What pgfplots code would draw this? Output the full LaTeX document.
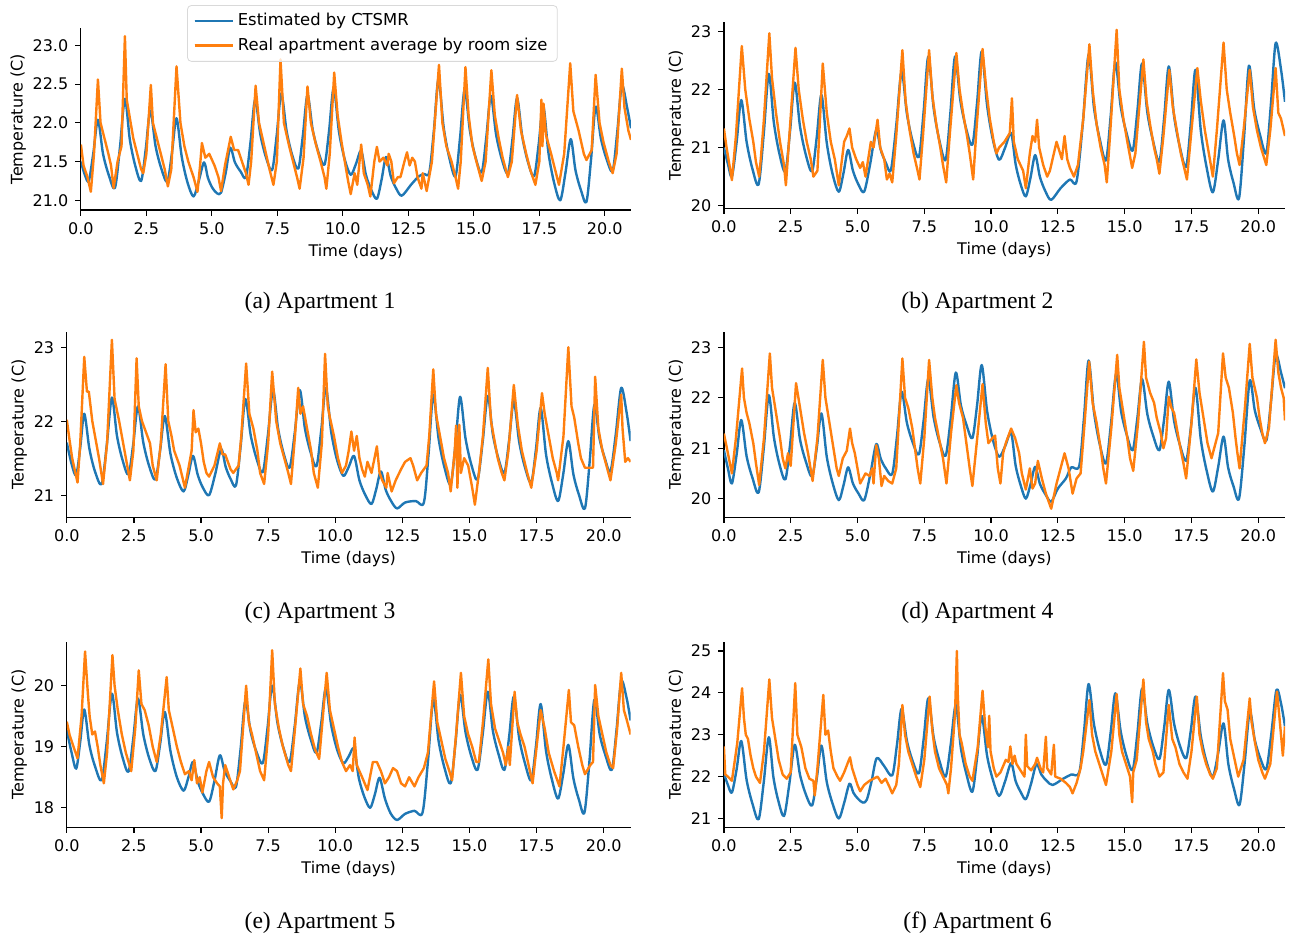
\documentclass[border=0pt]{standalone}
\usepackage{fontspec}
\setmainfont{DejaVu Sans}
\newfontfamily\capfont{Liberation Serif}
\usepackage{pgfplots}
\pgfplotsset{compat=1.18}
\definecolor{mplblue}{HTML}{1F77B4}
\definecolor{mplorange}{HTML}{FF7F0E}
\pgfplotsset{
  apt/.style={
    scale only axis, anchor=south west,
    xmin=0, xmax=21,
    axis lines=left, axis line style={-, line width=0.6pt},
    tick align=outside, major tick length=2.8pt,
    tick style={black, line width=0.6pt},
    xtick={0,2.5,5,7.5,10,12.5,15,17.5,20},
    xticklabel style={/pgf/number format/fixed, /pgf/number format/fixed zerofill, /pgf/number format/precision=1},
    /pgf/number format/assume math mode=true,
    xlabel={Time (days)}, ylabel={Temperature (C)},
    xlabel shift=-2pt, ylabel shift=-3.5pt,
    font=\fontsize{8}{9.6}\selectfont,
    every axis plot/.append style={line width=1.2pt, line join=round},
    legend image code/.code={\draw[##1, line width=1.2pt] (0pt,0pt) -- (16pt,0pt); \path (0pt,0pt) -- (19pt,0pt);},
  },
  bl/.style={mplblue, smooth},
  or/.style={mplorange},
}
\begin{document}
\begin{tikzpicture}
\useasboundingbox (0,0) rectangle (651.5pt,469.5pt);

% (a)
\begin{axis}[apt, at={(40.45pt,364.5pt)}, width=275.05pt, height=91pt,
  ymin=20.875, ymax=23.225, ytick={21,21.5,22,22.5,23},
  yticklabel style={/pgf/number format/fixed, /pgf/number format/fixed zerofill, /pgf/number format/precision=1},
  legend style={at={(axis description cs:0.193,1.126)}, anchor=north west, font=\fontsize{8.2}{9.8}\selectfont,
    draw=black!15, fill=white, fill opacity=0.8, text opacity=1, rounded corners=2pt,
    inner xsep=3pt, inner ysep=2pt, row sep=0.5pt, cells={anchor=west}},
  legend cell align=left]
\addplot[bl] coordinates {(0,21.5) (0.15,21.33) (0.3,21.25) (0.475,21.61) (0.65,22.04) (0.845,21.6) (1.07,21.32) (1.3,21.16) (1.49,21.68) (1.68,22.31) (1.87,21.78) (2.08,21.44) (2.3,21.25) (2.475,21.66) (2.65,22.16) (2.85,21.7) (3.07,21.41) (3.3,21.24) (3.475,21.61) (3.65,22.06) (3.85,21.56) (4.07,21.23) (4.3,21.05) (4.5,21.25) (4.7,21.49) (4.85,21.29) (5.02,21.16) (5.2,21.09) (5.35,21.1) (5.53,21.36) (5.7,21.68) (5.88,21.49) (6.1,21.37) (6.3,21.3) (6.475,21.75) (6.65,22.3) (6.85,21.85) (7.07,21.55) (7.3,21.39) (7.475,21.84) (7.65,22.38) (7.85,21.9) (8.07,21.58) (8.3,21.41) (8.475,21.84) (8.65,22.36) (8.85,21.91) (9.07,21.62) (9.3,21.46) (9.475,21.9) (9.65,22.45) (9.85,21.89) (10.07,21.53) (10.3,21.33) (10.5,21.47) (10.7,21.64) (10.88,21.33) (11.09,21.13) (11.3,21.02) (11.475,21.26) (11.65,21.56) (11.83,21.31) (12.04,21.15) (12.25,21.06) (12.6,21.2) (12.9,21.31) (13.1,21.34) (13.3,21.36) (13.475,21.9) (13.65,22.56) (13.85,21.94) (14.07,21.54) (14.3,21.31) (14.475,21.81) (14.65,22.43) (14.85,21.9) (15.07,21.55) (15.3,21.36) (15.475,21.81) (15.65,22.35) (15.85,21.85) (16.07,21.53) (16.3,21.35) (16.475,21.79) (16.65,22.32) (16.85,21.82) (17.07,21.49) (17.3,21.31) (17.475,21.72) (17.65,22.22) (17.85,21.61) (18.07,21.22) (18.3,21.0) (18.5,21.36) (18.7,21.79) (18.88,21.39) (19.09,21.13) (19.3,20.98) (19.475,21.53) (19.65,22.21) (19.85,21.8) (20.07,21.53) (20.3,21.38) (20.475,21.88) (20.65,22.48) (20.85,22.2) (21.0,21.93)};
\addplot[or] coordinates {(0,21.72) (0.1,21.45) (0.25,21.3) (0.38,21.11) (0.5,21.6) (0.65,22.56) (0.75,22.0) (0.9,21.8) (1.05,21.6) (1.15,21.45) (1.25,21.16) (1.4,21.5) (1.55,21.7) (1.68,23.12) (1.75,22.3) (1.9,22.0) (2.0,21.8) (2.15,21.6) (2.3,21.4) (2.38,21.35) (2.5,21.6) (2.67,22.49) (2.75,22.0) (2.9,21.8) (3.05,21.6) (3.2,21.4) (3.32,21.18) (3.45,21.4) (3.65,22.73) (3.8,22.0) (3.95,21.7) (4.1,21.5) (4.3,21.3) (4.45,21.11) (4.55,21.45) (4.62,21.74) (4.75,21.55) (4.9,21.6) (5.1,21.45) (5.25,21.3) (5.35,21.12) (5.5,21.45) (5.72,21.82) (5.85,21.65) (6.0,21.65) (6.1,21.55) (6.3,21.35) (6.4,21.2) (6.5,21.5) (6.67,22.48) (6.8,22.0) (7.0,21.7) (7.2,21.4) (7.35,21.2) (7.48,21.5) (7.62,22.82) (7.75,22.0) (7.95,21.7) (8.1,21.5) (8.25,21.3) (8.35,21.15) (8.5,21.55) (8.65,22.47) (8.78,22.0) (8.95,21.75) (9.15,21.5) (9.3,21.3) (9.37,21.15) (9.5,21.6) (9.67,22.65) (9.8,22.1) (9.95,21.75) (10.1,21.45) (10.2,21.25) (10.3,21.08) (10.45,21.35) (10.55,21.2) (10.7,21.72) (10.8,21.35) (10.95,21.2) (11.05,21.05) (11.2,21.5) (11.3,21.69) (11.4,21.5) (11.55,21.55) (11.7,21.45) (11.75,21.6) (11.85,21.5) (11.95,21.22) (12.1,21.3) (12.2,21.3) (12.35,21.5) (12.45,21.62) (12.55,21.45) (12.65,21.55) (12.75,21.5) (12.85,21.3) (13.0,21.15) (13.05,21.35) (13.2,21.12) (13.4,21.5) (13.67,22.75) (13.8,22.0) (13.95,21.7) (14.15,21.5) (14.3,21.3) (14.4,21.15) (14.5,21.5) (14.68,22.72) (14.8,22.1) (14.95,21.7) (15.1,21.5) (15.3,21.25) (15.45,21.5) (15.67,22.68) (15.8,22.1) (15.95,21.8) (16.1,21.55) (16.3,21.3) (16.45,21.5) (16.65,22.36) (16.8,21.9) (17.0,21.6) (17.15,21.4) (17.35,21.2) (17.5,21.5) (17.58,22.3) (17.62,21.7) (17.66,22.25) (17.75,21.85) (17.95,21.6) (18.1,21.4) (18.25,21.2) (18.45,21.6) (18.68,22.77) (18.8,22.15) (19.0,21.9) (19.2,21.6) (19.3,21.52) (19.5,21.65) (19.65,22.62) (19.8,22.0) (19.95,21.75) (20.15,21.5) (20.3,21.35) (20.45,21.6) (20.65,22.7) (20.75,22.2) (20.9,21.9) (21.0,21.78)};
\legend{Estimated by CTSMR, Real apartment average by room size}
\end{axis}

% (b)
\begin{axis}[apt, at={(361.95pt,365.35pt)}, width=280.55pt, height=93.3pt,
  ymin=19.954, ymax=23.17, ytick={20,21,22,23}]
\addplot[bl] coordinates {(0,21.0) (0.15,20.72) (0.3,20.5) (0.475,21.09) (0.65,21.82) (0.85,21.1) (1.07,20.63) (1.3,20.37) (1.49,21.23) (1.68,22.27) (1.87,21.43) (2.08,20.89) (2.3,20.59) (2.475,21.28) (2.65,22.12) (2.85,21.36) (3.07,20.87) (3.3,20.59) (3.475,21.18) (3.65,21.91) (3.85,21.08) (4.07,20.54) (4.3,20.24) (4.475,20.56) (4.65,20.96) (4.83,20.6) (5.04,20.36) (5.25,20.24) (5.475,20.72) (5.7,21.3) (5.87,20.96) (6.06,20.74) (6.25,20.61) (6.45,21.38) (6.65,22.31) (6.85,21.58) (7.07,21.1) (7.3,20.84) (7.475,21.62) (7.65,22.57) (7.85,21.68) (8.07,21.11) (8.3,20.79) (8.475,21.59) (8.65,22.57) (8.85,21.81) (9.07,21.32) (9.3,21.05) (9.475,21.77) (9.65,22.66) (9.85,21.73) (10.07,21.13) (10.3,20.79) (10.525,21.0) (10.75,21.25) (10.92,20.71) (11.11,20.36) (11.3,20.16) (11.475,20.48) (11.65,20.87) (11.83,20.49) (12.04,20.24) (12.25,20.1) (12.6,20.3) (12.95,20.45) (13.2,20.42) (13.43,21.4) (13.65,22.6) (13.85,21.69) (14.07,21.14) (14.3,20.78) (14.475,21.54) (14.65,22.47) (14.85,21.71) (15.07,21.25) (15.3,20.95) (15.475,21.63) (15.65,22.45) (15.85,21.6) (16.07,21.1) (16.3,20.76) (16.475,21.5) (16.65,22.4) (16.85,21.54) (17.07,21.0) (17.3,20.67) (17.475,21.42) (17.65,22.34) (17.85,21.29) (18.07,20.65) (18.3,20.23) (18.5,20.79) (18.7,21.47) (18.87,20.8) (19.07,20.4) (19.28,20.13) (19.465,21.16) (19.65,22.41) (19.85,21.66) (20.07,21.21) (20.3,20.91) (20.475,21.76) (20.65,22.8) (20.85,22.35) (21.0,21.79)};
\addplot[or] coordinates {(0,21.33) (0.1,21.0) (0.3,20.44) (0.45,21.2) (0.67,22.75) (0.8,22.0) (0.95,21.5) (1.1,21.1) (1.2,20.75) (1.32,20.5) (1.38,20.8) (1.5,21.5) (1.7,22.97) (1.8,22.2) (1.95,21.6) (2.1,21.1) (2.25,20.7) (2.32,20.35) (2.45,21.2) (2.68,22.72) (2.8,22.0) (2.95,21.5) (3.1,21.1) (3.25,20.8) (3.35,20.5) (3.5,20.6) (3.7,22.45) (3.85,21.6) (4.0,21.1) (4.15,20.8) (4.3,20.35) (4.5,21.1) (4.6,21.2) (4.7,21.33) (4.8,21.0) (4.95,20.8) (5.1,20.65) (5.2,20.75) (5.3,20.5) (5.5,21.1) (5.6,21.0) (5.75,21.48) (5.85,21.0) (6.0,20.8) (6.1,20.45) (6.2,20.55) (6.3,20.4) (6.45,21.2) (6.68,22.68) (6.8,21.8) (6.95,21.3) (7.1,20.9) (7.25,20.6) (7.32,20.45) (7.45,21.2) (7.68,22.68) (7.8,21.9) (7.95,21.4) (8.1,21.0) (8.2,20.7) (8.32,20.4) (8.45,21.2) (8.7,22.63) (8.82,22.0) (8.95,21.6) (9.1,21.2) (9.2,20.9) (9.33,20.45) (9.45,21.3) (9.68,22.7) (9.82,22.0) (9.95,21.5) (10.1,21.1) (10.2,20.9) (10.3,21.0) (10.5,21.1) (10.7,21.25) (10.78,21.85) (10.85,21.1) (11.0,20.8) (11.2,20.6) (11.3,20.3) (11.45,20.9) (11.55,21.2) (11.65,21.1) (11.72,21.48) (11.8,21.0) (11.95,20.7) (12.1,20.5) (12.2,20.6) (12.35,20.9) (12.45,21.1) (12.55,20.95) (12.65,20.8) (12.75,21.2) (12.85,20.8) (12.95,20.65) (13.1,20.5) (13.25,20.7) (13.45,21.5) (13.68,22.78) (13.8,22.0) (13.95,21.4) (14.1,21.0) (14.25,20.7) (14.33,20.4) (14.45,21.2) (14.7,23.03) (14.8,22.0) (14.95,21.5) (15.1,21.1) (15.28,20.65) (15.4,20.9) (15.7,22.52) (15.82,21.8) (15.95,21.4) (16.1,21.0) (16.2,20.8) (16.3,20.55) (16.45,21.2) (16.67,22.34) (16.8,21.7) (16.95,21.3) (17.1,20.9) (17.33,20.45) (17.5,21.3) (17.72,22.37) (17.85,21.8) (18.0,21.3) (18.15,20.9) (18.3,20.5) (18.45,21.3) (18.7,22.81) (18.82,22.0) (18.95,21.6) (19.1,21.2) (19.2,20.9) (19.3,20.7) (19.45,21.3) (19.68,22.34) (19.8,21.7) (19.95,21.3) (20.1,21.0) (20.3,20.7) (20.45,21.3) (20.65,22.37) (20.75,21.6) (20.85,21.5) (20.95,21.3) (21.0,21.2)};
\end{axis}

% (c)
\begin{axis}[apt, at={(33.4pt,210.85pt)}, width=281.9pt, height=92.8pt,
  ymin=20.7, ymax=23.21, ytick={21,22,23}]
\addplot[bl] coordinates {(0,21.71) (0.18,21.42) (0.35,21.27) (0.5,21.64) (0.65,22.1) (0.84,21.63) (1.05,21.32) (1.3,21.15) (1.49,21.68) (1.68,22.32) (1.87,21.8) (2.08,21.47) (2.3,21.28) (2.475,21.69) (2.65,22.2) (2.85,21.71) (3.07,21.39) (3.3,21.21) (3.475,21.6) (3.65,22.07) (3.86,21.56) (4.1,21.23) (4.35,21.05) (4.525,21.27) (4.7,21.53) (4.88,21.27) (5.07,21.1) (5.3,21.0) (5.525,21.28) (5.75,21.62) (5.92,21.38) (6.1,21.22) (6.3,21.13) (6.475,21.66) (6.65,22.3) (6.85,21.81) (7.07,21.49) (7.3,21.31) (7.49,21.81) (7.68,22.42) (7.87,21.9) (8.08,21.56) (8.3,21.37) (8.49,21.84) (8.68,22.42) (8.87,21.9) (9.08,21.58) (9.3,21.39) (9.475,21.87) (9.65,22.45) (9.85,21.85) (10.07,21.47) (10.3,21.26) (10.5,21.38) (10.7,21.53) (10.9,21.2) (11.12,21.0) (11.35,20.88) (11.525,21.08) (11.7,21.32) (11.88,21.07) (12.08,20.92) (12.3,20.82) (12.6,20.9) (13.0,20.92) (13.3,20.9) (13.475,21.56) (13.65,22.36) (13.85,21.76) (14.07,21.37) (14.3,21.15) (14.475,21.68) (14.65,22.33) (14.85,21.77) (15.07,21.41) (15.3,21.21) (15.49,21.72) (15.68,22.34) (15.87,21.82) (16.08,21.49) (16.3,21.3) (16.475,21.74) (16.65,22.27) (16.85,21.72) (17.07,21.37) (17.3,21.17) (17.475,21.62) (17.65,22.18) (17.85,21.55) (18.07,21.17) (18.3,20.92) (18.49,21.28) (18.68,21.73) (18.87,21.28) (19.08,21.0) (19.3,20.82) (19.475,21.45) (19.65,22.22) (19.84,21.77) (20.04,21.5) (20.25,21.32) (20.45,21.83) (20.65,22.45) (20.85,22.12) (21.0,21.73)};
\addplot[or] coordinates {(0,22.02) (0.1,21.75) (0.2,21.5) (0.4,21.17) (0.5,21.7) (0.65,22.87) (0.75,22.4) (0.82,22.4) (0.95,22.0) (1.05,21.8) (1.2,21.5) (1.35,21.15) (1.5,21.7) (1.68,23.1) (1.78,22.3) (1.95,22.0) (2.1,21.7) (2.2,21.5) (2.35,21.2) (2.48,21.6) (2.6,22.85) (2.68,22.2) (2.8,22.0) (2.9,21.9) (3.1,21.7) (3.2,21.4) (3.35,21.2) (3.5,21.7) (3.68,22.77) (3.78,22.0) (3.9,21.8) (4.0,21.6) (4.2,21.4) (4.4,21.1) (4.55,21.4) (4.65,21.6) (4.72,22.15) (4.8,21.85) (4.9,21.9) (5.0,21.7) (5.1,21.45) (5.2,21.3) (5.3,21.25) (5.5,21.4) (5.7,21.7) (5.8,21.55) (5.9,21.55) (6.1,21.35) (6.2,21.3) (6.4,21.4) (6.5,21.8) (6.68,22.78) (6.8,22.1) (6.95,21.9) (7.1,21.6) (7.2,21.3) (7.35,21.15) (7.5,21.7) (7.65,22.67) (7.8,22.0) (7.95,21.7) (8.1,21.5) (8.25,21.3) (8.35,21.15) (8.5,21.8) (8.62,22.45) (8.7,22.1) (8.8,22.2) (8.95,21.9) (9.1,21.6) (9.2,21.3) (9.35,21.1) (9.5,21.7) (9.62,22.91) (9.72,22.2) (9.8,22.05) (9.95,21.8) (10.1,21.5) (10.25,21.3) (10.4,21.4) (10.5,21.6) (10.6,21.86) (10.7,21.6) (10.8,21.8) (10.9,21.5) (11.0,21.35) (11.1,21.25) (11.2,21.45) (11.35,21.3) (11.55,21.66) (11.65,21.3) (11.75,21.2) (11.9,21.1) (11.95,21.3) (12.1,21.05) (12.25,21.2) (12.45,21.35) (12.6,21.45) (12.8,21.5) (12.9,21.4) (13.05,21.2) (13.2,21.3) (13.4,21.4) (13.5,21.8) (13.65,22.7) (13.75,22.1) (13.9,21.8) (14.05,21.5) (14.2,21.3) (14.3,21.05) (14.45,21.6) (14.5,21.94) (14.55,21.1) (14.62,21.95) (14.68,21.3) (14.8,21.5) (14.95,21.4) (15.1,21.1) (15.2,20.87) (15.35,21.3) (15.5,21.8) (15.68,22.72) (15.8,22.0) (15.9,21.8) (16.05,21.5) (16.2,21.3) (16.3,21.2) (16.45,21.6) (16.65,22.49) (16.8,21.95) (16.95,21.6) (17.15,21.3) (17.3,21.1) (17.5,21.6) (17.7,22.38) (17.8,22.1) (17.95,21.8) (18.1,21.5) (18.25,21.3) (18.3,21.2) (18.5,21.8) (18.68,23.0) (18.8,22.2) (18.9,22.05) (19.05,21.7) (19.15,21.5) (19.3,21.37) (19.6,21.37) (19.68,22.6) (19.8,21.9) (19.95,21.6) (20.1,21.4) (20.25,21.2) (20.45,21.7) (20.65,22.36) (20.7,21.9) (20.8,21.45) (20.9,21.5) (21.0,21.45)};
\end{axis}

% (d)
\begin{axis}[apt, at={(361.95pt,210.85pt)}, width=280.55pt, height=92.8pt,
  ymin=19.63, ymax=23.31, ytick={20,21,22,23}]
\addplot[bl] coordinates {(0,20.96) (0.15,20.6) (0.3,20.3) (0.475,20.87) (0.65,21.56) (0.85,20.84) (1.07,20.41) (1.3,20.12) (1.49,20.99) (1.68,22.05) (1.87,21.22) (2.08,20.68) (2.3,20.38) (2.475,21.06) (2.65,21.9) (2.85,21.17) (3.07,20.73) (3.3,20.44) (3.475,21.0) (3.65,21.69) (3.85,20.83) (4.07,20.31) (4.3,19.97) (4.475,20.26) (4.65,20.62) (4.83,20.3) (5.04,20.1) (5.25,19.97) (5.475,20.47) (5.7,21.08) (5.87,20.79) (6.06,20.6) (6.3,20.49) (6.475,21.22) (6.65,22.12) (6.85,21.5) (7.07,21.11) (7.3,20.88) (7.475,21.55) (7.65,22.37) (7.85,21.61) (8.07,21.12) (8.3,20.85) (8.49,21.59) (8.68,22.5) (8.87,21.85) (9.08,21.46) (9.3,21.2) (9.475,21.85) (9.65,22.65) (9.85,21.74) (10.07,21.16) (10.3,20.83) (10.525,21.04) (10.75,21.3) (10.92,20.65) (11.11,20.26) (11.3,20.0) (11.475,20.28) (11.65,20.63) (11.83,20.29) (12.04,20.08) (12.25,19.94) (12.5,20.2) (12.8,20.4) (13.0,20.62) (13.3,20.65) (13.475,21.59) (13.65,22.74) (13.85,21.72) (14.07,21.07) (14.3,20.7) (14.49,21.5) (14.68,22.47) (14.87,21.72) (15.08,21.26) (15.3,20.96) (15.475,21.6) (15.65,22.37) (15.85,21.67) (16.07,21.24) (16.3,20.96) (16.475,21.57) (16.65,22.32) (16.85,21.54) (17.07,21.06) (17.3,20.75) (17.475,21.4) (17.65,22.2) (17.85,21.17) (18.07,20.55) (18.3,20.14) (18.5,20.63) (18.7,21.23) (18.87,20.62) (19.07,20.25) (19.28,20.0) (19.48,21.05) (19.68,22.34) (19.87,21.75) (20.08,21.39) (20.3,21.15) (20.475,21.92) (20.65,22.85) (20.85,22.5) (21.0,22.19)};
\addplot[or] coordinates {(0,21.29) (0.15,20.9) (0.3,20.5) (0.45,21.2) (0.68,22.58) (0.75,22.0) (0.85,21.7) (0.95,21.5) (1.1,21.1) (1.2,20.7) (1.32,20.27) (1.5,21.2) (1.72,22.88) (1.8,22.2) (1.95,21.7) (2.1,21.2) (2.2,20.8) (2.3,20.6) (2.4,20.9) (2.5,20.65) (2.7,22.29) (2.85,21.8) (3.0,21.3) (3.15,20.9) (3.32,20.35) (3.5,21.2) (3.7,22.75) (3.8,22.0) (3.95,21.5) (4.1,21.0) (4.22,20.6) (4.3,20.45) (4.45,20.8) (4.6,20.95) (4.72,21.39) (4.8,21.1) (4.9,20.9) (5.0,20.6) (5.1,20.3) (5.3,20.5) (5.45,20.45) (5.55,20.6) (5.6,20.3) (5.7,21.06) (5.8,20.8) (5.9,20.25) (6.0,20.45) (6.15,20.35) (6.3,20.3) (6.45,20.6) (6.68,22.78) (6.78,22.0) (6.9,21.8) (7.05,21.4) (7.15,21.0) (7.25,20.6) (7.35,20.3) (7.5,21.2) (7.68,22.75) (7.8,22.0) (7.9,21.6) (8.05,21.2) (8.2,20.8) (8.33,20.3) (8.5,21.3) (8.7,22.25) (8.8,21.9) (8.95,21.6) (9.1,21.0) (9.2,20.6) (9.3,20.25) (9.5,21.3) (9.68,22.27) (9.8,21.5) (9.9,21.1) (10.05,21.2) (10.15,21.25) (10.25,20.6) (10.35,20.3) (10.45,20.9) (10.55,21.1) (10.75,21.39) (10.9,21.2) (11.05,20.9) (11.15,20.5) (11.3,20.18) (11.45,20.6) (11.55,20.2) (11.65,20.3) (11.75,20.75) (11.9,20.4) (12.05,20.1) (12.25,19.8) (12.45,20.3) (12.6,20.6) (12.75,20.9) (12.9,20.6) (13.05,20.1) (13.2,20.4) (13.35,20.5) (13.5,21.5) (13.67,22.72) (13.8,21.9) (13.95,21.5) (14.1,21.0) (14.2,20.6) (14.3,20.3) (14.5,21.4) (14.72,22.85) (14.8,22.2) (14.95,21.7) (15.1,21.2) (15.2,20.8) (15.32,20.55) (15.5,21.5) (15.72,23.11) (15.8,22.4) (15.95,22.1) (16.1,21.9) (16.2,21.6) (16.35,21.3) (16.45,21.0) (16.55,21.2) (16.65,22.02) (16.75,21.8) (16.85,21.7) (16.95,21.4) (17.05,21.1) (17.2,20.7) (17.3,20.4) (17.5,21.5) (17.68,22.76) (17.8,22.1) (17.95,21.6) (18.1,21.1) (18.25,20.8) (18.4,21.1) (18.5,21.3) (18.68,22.88) (18.78,22.4) (18.9,22.2) (19.05,21.7) (19.15,21.2) (19.22,20.9) (19.3,20.6) (19.5,21.8) (19.68,23.07) (19.78,22.4) (19.95,22.0) (20.05,21.6) (20.15,21.3) (20.25,21.1) (20.4,21.4) (20.65,23.15) (20.75,22.5) (20.85,22.2) (20.95,22.0) (21.0,21.55)};
\end{axis}

% (e)
\begin{axis}[apt, at={(33.4pt,55.85pt)}, width=281.9pt, height=92.8pt,
  ymin=17.68, ymax=20.72, ytick={18,19,20}]
\addplot[bl] coordinates {(0,19.27) (0.18,18.9) (0.35,18.64) (0.5,19.08) (0.65,19.61) (0.84,19.03) (1.05,18.68) (1.3,18.45) (1.49,19.09) (1.68,19.87) (1.87,19.23) (2.08,18.82) (2.3,18.59) (2.475,19.13) (2.65,19.79) (2.85,19.2) (3.07,18.81) (3.3,18.6) (3.475,19.04) (3.65,19.57) (3.86,18.93) (4.1,18.5) (4.35,18.28) (4.525,18.49) (4.7,18.75) (4.88,18.43) (5.07,18.23) (5.3,18.1) (5.5,18.44) (5.7,18.86) (5.88,18.6) (6.09,18.44) (6.3,18.34) (6.475,18.97) (6.65,19.75) (6.85,19.24) (7.07,18.91) (7.3,18.73) (7.475,19.3) (7.65,20.0) (7.85,19.38) (8.07,18.98) (8.3,18.75) (8.49,19.34) (8.68,20.07) (8.87,19.49) (9.08,19.13) (9.3,18.9) (9.475,19.38) (9.65,19.96) (9.85,19.35) (10.07,18.95) (10.3,18.73) (10.5,18.84) (10.7,18.97) (10.88,18.48) (11.09,18.17) (11.3,18.0) (11.475,18.22) (11.65,18.49) (11.85,18.15) (12.06,17.91) (12.3,17.8) (12.6,17.9) (12.95,17.95) (13.25,17.92) (13.45,18.75) (13.65,19.77) (13.85,19.09) (14.07,18.65) (14.3,18.4) (14.475,19.05) (14.65,19.85) (14.85,19.24) (15.07,18.84) (15.3,18.62) (15.49,19.2) (15.68,19.9) (15.87,19.26) (16.08,18.88) (16.3,18.62) (16.475,19.16) (16.65,19.82) (16.85,19.14) (17.07,18.72) (17.3,18.45) (17.475,19.01) (17.65,19.7) (17.85,18.93) (18.07,18.46) (18.3,18.15) (18.49,18.55) (18.68,19.03) (18.87,18.48) (19.07,18.14) (19.28,17.92) (19.465,18.75) (19.65,19.77) (19.85,19.2) (20.07,18.85) (20.3,18.62) (20.475,19.27) (20.65,20.07) (20.85,19.8) (21.0,19.43)};
\addplot[or] coordinates {(0,19.41) (0.1,19.2) (0.25,19.0) (0.4,18.81) (0.55,19.5) (0.68,20.56) (0.78,19.9) (0.85,19.5) (0.95,19.2) (1.05,19.25) (1.15,19.0) (1.25,18.7) (1.38,18.4) (1.5,18.9) (1.7,20.5) (1.78,20.0) (1.9,19.6) (2.05,19.2) (2.2,18.9) (2.4,18.6) (2.55,19.3) (2.68,20.25) (2.78,19.7) (2.9,19.6) (3.05,19.35) (3.2,19.0) (3.35,18.75) (3.5,19.2) (3.72,20.14) (3.8,19.6) (3.95,19.3) (4.1,19.0) (4.25,18.75) (4.4,18.55) (4.55,18.6) (4.65,18.45) (4.75,18.78) (4.85,18.4) (4.95,18.5) (5.05,18.25) (5.2,18.6) (5.3,18.75) (5.45,18.5) (5.6,18.4) (5.7,18.35) (5.77,17.83) (5.82,18.4) (5.9,18.7) (6.05,18.5) (6.2,18.3) (6.35,18.45) (6.45,18.6) (6.68,20.0) (6.78,19.4) (6.9,19.2) (7.05,18.9) (7.2,18.6) (7.35,18.45) (7.5,19.2) (7.65,20.58) (7.75,19.7) (7.9,19.3) (8.05,19.0) (8.25,18.7) (8.35,18.6) (8.5,19.3) (8.7,20.28) (8.8,19.7) (8.95,19.5) (9.1,19.2) (9.25,18.95) (9.4,18.8) (9.5,19.3) (9.68,20.21) (9.8,19.6) (9.95,19.3) (10.1,19.0) (10.25,18.75) (10.4,18.6) (10.55,18.7) (10.65,18.6) (10.72,19.15) (10.8,18.7) (11.0,18.5) (11.2,18.29) (11.4,18.75) (11.55,18.75) (11.7,18.6) (11.85,18.4) (12.0,18.5) (12.15,18.65) (12.3,18.6) (12.45,18.4) (12.6,18.35) (12.75,18.5) (12.95,18.35) (13.1,18.5) (13.3,18.65) (13.45,18.9) (13.68,20.07) (13.8,19.4) (13.95,19.1) (14.1,18.8) (14.25,18.6) (14.35,18.45) (14.5,19.2) (14.68,20.21) (14.8,19.5) (14.95,19.2) (15.1,19.0) (15.25,18.75) (15.35,18.75) (15.5,19.4) (15.7,20.43) (15.8,19.7) (15.95,19.3) (16.1,19.1) (16.25,18.9) (16.35,18.7) (16.45,19.0) (16.5,18.7) (16.68,19.9) (16.78,19.4) (16.9,19.2) (17.05,19.0) (17.2,18.7) (17.35,18.4) (17.5,19.0) (17.65,19.6) (17.8,19.3) (17.95,18.9) (18.15,18.6) (18.35,18.35) (18.5,19.0) (18.7,19.93) (18.78,19.4) (18.9,19.35) (19.05,19.0) (19.2,18.7) (19.3,18.55) (19.5,18.7) (19.6,18.75) (19.68,20.01) (19.8,19.5) (19.95,19.2) (20.1,18.9) (20.25,18.7) (20.35,18.65) (20.5,19.3) (20.65,20.21) (20.75,19.6) (20.85,19.45) (21.0,19.2)};
\end{axis}

% (f)
\begin{axis}[apt, at={(361.95pt,55.85pt)}, width=280.55pt, height=92.8pt,
  ymin=20.79, ymax=25.22, ytick={21,22,23,24,25}]
\addplot[bl] coordinates {(0,22.08) (0.15,21.8) (0.3,21.62) (0.475,22.17) (0.65,22.85) (0.85,21.92) (1.07,21.35) (1.3,20.98) (1.49,21.86) (1.68,22.94) (1.85,22.0) (2.03,21.44) (2.25,21.06) (2.45,21.83) (2.65,22.76) (2.85,22.04) (3.07,21.57) (3.3,21.31) (3.475,21.95) (3.65,22.74) (3.85,21.87) (4.07,21.35) (4.3,21.0) (4.5,21.37) (4.7,21.83) (4.85,21.61) (5.02,21.47) (5.2,21.38) (5.35,21.45) (5.53,21.9) (5.72,22.44) (6.0,22.25) (6.3,22.03) (6.475,22.75) (6.65,23.62) (6.85,22.85) (7.07,22.36) (7.3,22.08) (7.475,22.89) (7.65,23.87) (7.85,22.94) (8.07,22.37) (8.3,22.0) (8.49,22.77) (8.68,23.71) (8.87,22.68) (9.08,22.05) (9.3,21.64) (9.475,22.45) (9.65,23.45) (9.85,22.5) (10.07,21.92) (10.3,21.54) (10.525,21.89) (10.75,22.32) (10.92,21.89) (11.11,21.63) (11.3,21.46) (11.5,21.84) (11.7,22.3) (11.88,22.05) (12.08,21.9) (12.3,21.8) (12.7,21.95) (13.0,22.05) (13.3,22.1) (13.475,23.05) (13.65,24.21) (13.85,23.25) (14.07,22.63) (14.3,22.28) (14.475,23.05) (14.65,23.99) (14.85,23.08) (15.07,22.49) (15.3,22.16) (15.475,23.03) (15.65,24.1) (15.85,23.26) (16.07,22.72) (16.3,22.42) (16.475,23.16) (16.65,24.07) (16.85,23.26) (17.07,22.73) (17.3,22.44) (17.475,23.1) (17.65,23.91) (17.85,22.96) (18.07,22.34) (18.3,22.0) (18.5,22.57) (18.7,23.27) (18.88,22.3) (19.09,21.71) (19.3,21.33) (19.49,22.33) (19.68,23.55) (19.87,22.87) (20.08,22.43) (20.3,22.18) (20.49,23.03) (20.68,24.07) (20.85,23.75) (21.0,23.2)};
\addplot[or] coordinates {(0,22.72) (0.05,22.05) (0.15,22.0) (0.3,21.9) (0.5,22.8) (0.68,24.11) (0.75,23.4) (0.82,23.0) (0.9,22.9) (1.0,22.5) (1.1,22.2) (1.2,22.0) (1.35,21.85) (1.5,22.6) (1.7,24.32) (1.8,23.4) (1.9,23.0) (2.05,22.4) (2.2,22.05) (2.35,21.95) (2.5,22.1) (2.67,24.23) (2.75,23.0) (2.9,22.7) (3.05,22.2) (3.2,21.95) (3.35,21.9) (3.4,21.55) (3.5,22.2) (3.72,23.95) (3.8,23.0) (3.9,23.1) (4.0,22.6) (4.1,22.2) (4.25,22.0) (4.35,21.9) (4.5,22.1) (4.65,22.35) (4.72,22.46) (4.8,22.2) (4.9,22.0) (5.0,21.8) (5.1,21.65) (5.25,21.8) (5.45,21.9) (5.6,21.95) (5.75,22.0) (5.9,21.85) (6.05,21.95) (6.2,21.75) (6.3,21.6) (6.45,21.8) (6.55,22.3) (6.68,23.71) (6.78,23.0) (6.9,22.6) (7.05,22.3) (7.2,22.0) (7.35,21.75) (7.5,22.4) (7.7,23.91) (7.8,23.1) (7.9,22.6) (8.05,22.2) (8.2,22.0) (8.35,21.8) (8.4,21.6) (8.5,22.2) (8.65,23.5) (8.72,25.0) (8.75,24.0) (8.82,23.0) (8.9,22.8) (9.05,22.3) (9.2,22.0) (9.3,21.9) (9.5,22.7) (9.68,24.05) (9.78,23.2) (9.88,22.7) (9.93,23.45) (9.98,22.6) (10.1,22.2) (10.2,22.0) (10.35,22.1) (10.55,22.4) (10.65,22.35) (10.72,22.72) (10.8,22.3) (10.88,22.5) (10.95,22.3) (11.1,22.15) (11.25,22.0) (11.3,23.0) (11.35,22.25) (11.5,22.15) (11.65,22.3) (11.72,22.45) (11.85,22.2) (11.95,22.1) (12.05,22.95) (12.1,22.2) (12.25,22.05) (12.35,22.76) (12.4,22.0) (12.6,21.95) (12.8,21.85) (12.95,21.75) (13.05,21.6) (13.2,21.85) (13.35,22.2) (13.45,22.6) (13.68,23.83) (13.78,23.0) (13.9,22.6) (14.05,22.3) (14.2,22.0) (14.3,21.8) (14.5,22.6) (14.7,23.97) (14.8,23.0) (14.9,22.6) (15.05,22.3) (15.2,22.0) (15.28,21.39) (15.32,22.1) (15.45,22.4) (15.7,24.32) (15.8,23.3) (15.9,22.9) (16.05,22.6) (16.15,22.3) (16.3,22.0) (16.45,22.1) (16.65,23.71) (16.78,22.9) (16.9,22.7) (17.05,22.3) (17.2,22.1) (17.35,21.95) (17.5,22.6) (17.7,23.91) (17.8,23.0) (17.92,22.6) (18.05,22.3) (18.2,22.05) (18.3,21.95) (18.45,22.2) (18.68,24.47) (18.75,23.8) (18.85,23.6) (18.95,22.9) (19.05,22.6) (19.15,22.3) (19.25,22.0) (19.45,22.4) (19.68,23.87) (19.75,23.3) (19.88,22.8) (20.0,22.4) (20.15,22.1) (20.25,21.95) (20.45,22.3) (20.7,24.03) (20.78,23.5) (20.85,23.0) (20.92,22.5) (21.0,23.2)};
\end{axis}

\begin{scope}[every node/.style={font=\capfont\fontsize{11.8}{14}\selectfont}]
\node at (160pt,318pt) {(a) Apartment 1};
\node at (488.75pt,318pt) {(b) Apartment 2};
\node at (160pt,163pt) {(c) Apartment 3};
\node at (488.75pt,163pt) {(d) Apartment 4};
\node at (160pt,8pt) {(e) Apartment 5};
\node at (488.75pt,8pt) {(f) Apartment 6};
\end{scope}
\end{tikzpicture}
\end{document}
